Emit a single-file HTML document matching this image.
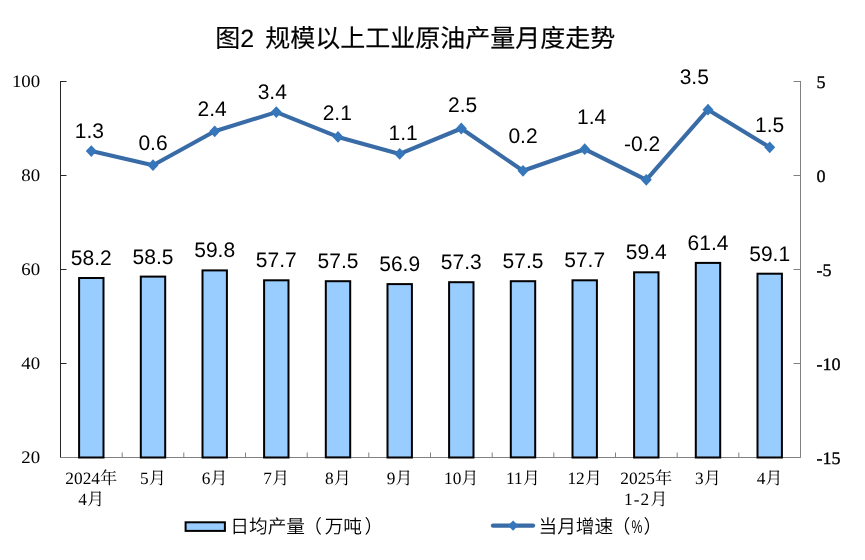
<!DOCTYPE html>
<html lang="zh-CN">
<head>
<meta charset="utf-8">
<title>图2 规模以上工业原油产量月度走势</title>
<style>
html,body{margin:0;padding:0;background:#fff;}
body{width:865px;height:560px;overflow:hidden;}
svg{display:block;}
text{text-rendering:geometricPrecision;}
.t{font-family:"Liberation Sans", "Noto Sans CJK SC", sans-serif;font-size:25px;fill:#000;stroke:#000;stroke-width:0.15px;}
.v{font-family:"Liberation Sans", "Noto Sans CJK SC", sans-serif;font-size:21px;fill:#000;text-anchor:middle;}
.ya{font-family:"Liberation Serif", "Noto Serif CJK SC", serif;font-size:17.6px;fill:#000;}
.xa{font-family:"Liberation Serif", "Noto Serif CJK SC", serif;font-size:17.3px;fill:#000;text-anchor:middle;font-weight:400;}
.lg{font-family:"Liberation Sans", "Noto Sans CJK SC", sans-serif;font-size:18.7px;fill:#000;font-weight:350;}
</style>
</head>
<body>
<svg width="865" height="560" viewBox="0 0 865 560">
<rect x="0" y="0" width="865" height="560" fill="#ffffff"/>
<text class="t" y="46.5"><tspan x="215.3">图</tspan><tspan x="240.3">2 </tspan><tspan x="265.2">规模以上工业原油产量月度走势</tspan></text>
<g stroke="#262626" stroke-width="1" fill="none">
<path d="M60.5 81.0V457.5"/>
<path d="M60.5 81.5h6"/>
<path d="M60.5 175.5h6"/>
<path d="M60.5 269.5h6"/>
<path d="M60.5 363.5h6"/>
<path d="M60.5 457.5h6"/>
</g>
<g stroke="#808080" stroke-width="1" fill="none">
<path d="M800.5 81.0V457.5"/>
<path d="M800.5 81.5h-7"/>
<path d="M800.5 175.5h-7"/>
<path d="M800.5 269.5h-7"/>
<path d="M800.5 363.5h-7"/>
<path d="M800.5 457.5h-7"/>
<path d="M60.5 457.5H800.5"/>
<path d="M122.2 457.5v-5"/>
<path d="M183.8 457.5v-5"/>
<path d="M245.5 457.5v-5"/>
<path d="M307.2 457.5v-5"/>
<path d="M368.8 457.5v-5"/>
<path d="M430.5 457.5v-5"/>
<path d="M492.2 457.5v-5"/>
<path d="M553.8 457.5v-5"/>
<path d="M615.5 457.5v-5"/>
<path d="M677.2 457.5v-5"/>
<path d="M738.8 457.5v-5"/>
</g>
<g fill="#99ccff" stroke="#000" stroke-width="2">
<rect x="79.1" y="278.0" width="24.4" height="179.5"/>
<rect x="140.8" y="276.6" width="24.4" height="180.9"/>
<rect x="202.5" y="270.4" width="24.4" height="187.1"/>
<rect x="264.1" y="280.3" width="24.4" height="177.2"/>
<rect x="325.8" y="281.2" width="24.4" height="176.2"/>
<rect x="387.5" y="284.1" width="24.4" height="173.4"/>
<rect x="449.1" y="282.2" width="24.4" height="175.3"/>
<rect x="510.8" y="281.2" width="24.4" height="176.2"/>
<rect x="572.5" y="280.3" width="24.4" height="177.2"/>
<rect x="634.1" y="272.3" width="24.4" height="185.2"/>
<rect x="695.8" y="262.9" width="24.4" height="194.6"/>
<rect x="757.5" y="273.7" width="24.4" height="183.8"/>
</g>
<text class="ya" transform="translate(40.2 87.4) scale(1.07 1)" text-anchor="end">100</text>
<text class="ya" transform="translate(40.2 181.4) scale(1.07 1)" text-anchor="end">80</text>
<text class="ya" transform="translate(40.2 275.4) scale(1.07 1)" text-anchor="end">60</text>
<text class="ya" transform="translate(40.2 369.4) scale(1.07 1)" text-anchor="end">40</text>
<text class="ya" transform="translate(40.2 463.4) scale(1.07 1)" text-anchor="end">20</text>
<text class="ya" stroke="#000" stroke-width="0.35" transform="translate(816.5 87.8) scale(1.03 1)">5</text>
<text class="ya" stroke="#000" stroke-width="0.35" transform="translate(816.5 181.8) scale(1.03 1)">0</text>
<text class="ya" stroke="#000" stroke-width="0.35" transform="translate(816.5 275.8) scale(1.03 1)">-5</text>
<text class="ya" stroke="#000" stroke-width="0.35" transform="translate(816.5 369.8) scale(1.03 1)">-10</text>
<text class="ya" stroke="#000" stroke-width="0.35" transform="translate(816.5 463.8) scale(1.03 1)">-15</text>
<text class="xa" x="91.3" y="484.0">2024年</text>
<text class="xa" x="91.3" y="505.0">4月</text>
<text class="xa" x="153.0" y="484.0">5月</text>
<text class="xa" x="214.7" y="484.0">6月</text>
<text class="xa" x="276.3" y="484.0">7月</text>
<text class="xa" x="338.0" y="484.0">8月</text>
<text class="xa" x="399.7" y="484.0">9月</text>
<text class="xa" x="461.3" y="484.0">10月</text>
<text class="xa" x="523.0" y="484.0">11月</text>
<text class="xa" x="584.7" y="484.0">12月</text>
<text class="xa" x="646.3" y="484.0">2025年</text>
<text class="xa" x="646.3" y="505.0" letter-spacing="1.1">1-2月</text>
<text class="xa" x="708.0" y="484.0">3月</text>
<text class="xa" x="769.7" y="484.0">4月</text>
<text class="v" x="91.3" y="265.0">58.2</text>
<text class="v" x="153.0" y="263.6">58.5</text>
<text class="v" x="214.7" y="257.4">59.8</text>
<text class="v" x="276.3" y="267.3">57.7</text>
<text class="v" x="338.0" y="268.2">57.5</text>
<text class="v" x="399.7" y="271.1">56.9</text>
<text class="v" x="461.3" y="269.2">57.3</text>
<text class="v" x="523.0" y="268.2">57.5</text>
<text class="v" x="584.7" y="267.3">57.7</text>
<text class="v" x="646.3" y="259.3">59.4</text>
<text class="v" x="708.0" y="249.9">61.4</text>
<text class="v" x="769.7" y="260.7">59.1</text>
<polyline fill="none" stroke="#396ca6" stroke-width="4.1" stroke-linejoin="round" stroke-linecap="round" points="91.3,151.1 153.0,165.2 214.7,131.3 276.3,112.1 338.0,136.9 399.7,153.9 461.3,128.5 523.0,170.8 584.7,149.2 646.3,179.8 708.0,109.7 769.7,147.3"/>
<g fill="#3676ba">
<path d="M91.3 145.2l5.5 5.9l-5.5 5.9l-5.5 -5.9z"/>
<path d="M153.0 159.3l5.5 5.9l-5.5 5.9l-5.5 -5.9z"/>
<path d="M214.7 125.4l5.5 5.9l-5.5 5.9l-5.5 -5.9z"/>
<path d="M276.3 106.2l5.5 5.9l-5.5 5.9l-5.5 -5.9z"/>
<path d="M338.0 131.0l5.5 5.9l-5.5 5.9l-5.5 -5.9z"/>
<path d="M399.7 148.0l5.5 5.9l-5.5 5.9l-5.5 -5.9z"/>
<path d="M461.3 122.6l5.5 5.9l-5.5 5.9l-5.5 -5.9z"/>
<path d="M523.0 164.9l5.5 5.9l-5.5 5.9l-5.5 -5.9z"/>
<path d="M584.7 143.3l5.5 5.9l-5.5 5.9l-5.5 -5.9z"/>
<path d="M646.3 173.9l5.5 5.9l-5.5 5.9l-5.5 -5.9z"/>
<path d="M708.0 103.8l5.5 5.9l-5.5 5.9l-5.5 -5.9z"/>
<path d="M769.7 141.4l5.5 5.9l-5.5 5.9l-5.5 -5.9z"/>
</g>
<text class="v" x="89.4" y="137.5">1.3</text>
<text class="v" x="153.0" y="150.4">0.6</text>
<text class="v" x="212.1" y="116.0">2.4</text>
<text class="v" x="272.3" y="99.0">3.4</text>
<text class="v" x="337.3" y="119.6">2.1</text>
<text class="v" x="403.2" y="140.4">1.1</text>
<text class="v" x="462.7" y="112.1">2.5</text>
<text class="v" x="523.0" y="143.1">0.2</text>
<text class="v" x="591.7" y="124.1">1.4</text>
<text class="v" x="642.1" y="150.7">-0.2</text>
<text class="v" x="694.3" y="84.0">3.5</text>
<text class="v" x="769.7" y="132.3">1.5</text>
<rect x="185.6" y="522.3" width="39.3" height="8.6" fill="#99ccff" stroke="#000" stroke-width="2"/>
<text class="lg" y="533"><tspan x="230.3">日均产量</tspan><tspan x="303.2">（</tspan><tspan x="324.7">万吨</tspan><tspan x="364.4">）</tspan></text>
<path d="M493 525.6H533" stroke="#396ca6" stroke-width="4.4" stroke-linecap="round" fill="none"/>
<path d="M513.1 520.4l5.2 5.2l-5.2 5.2l-5.2 -5.2z" fill="#3676ba"/>
<text class="lg" y="533"><tspan x="538.5">当月增速</tspan><tspan x="611.8">（</tspan></text>
<text class="lg" style="font-family:&quot;Liberation Sans&quot;,sans-serif;font-size:18.5px" transform="translate(631.6 533) scale(0.66 1)">%</text>
<text class="lg" x="643.4" y="533">）</text>
</svg>
</body>
</html>
